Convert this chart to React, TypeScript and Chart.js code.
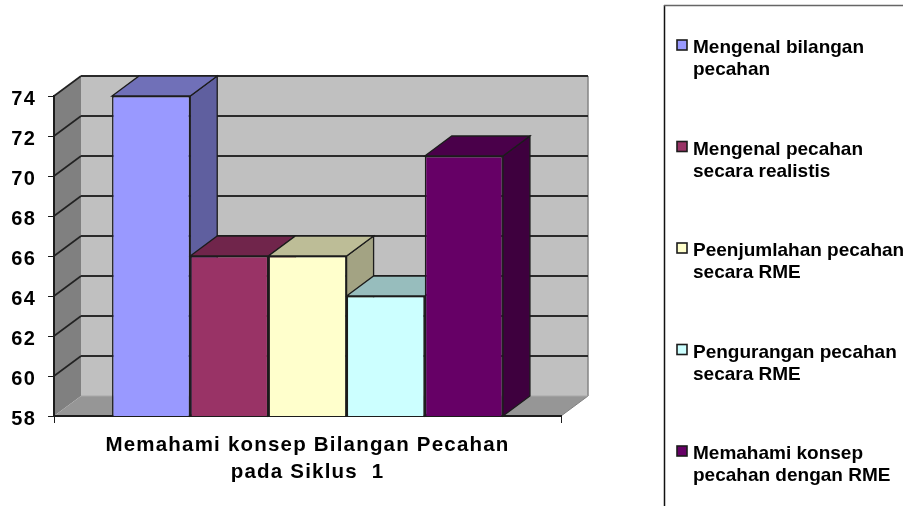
import React, { useEffect, useRef } from "react";
import { Chart, registerables } from "chart.js";

Chart.register(...registerables);

const categories: (string | string[])[] = [["Memahami konsep Bilangan Pecahan", "pada Siklus  1"]];
const legendLines: string[][] = [
  ["Mengenal bilangan", "pecahan"],
  ["Mengenal pecahan", "secara realistis"],
  ["Peenjumlahan pecahan", "secara RME"],
  ["Pengurangan pecahan", "secara RME"],
  ["Memahami konsep", "pecahan dengan RME"],
];
const mengenalBilangan = [74];
const mengenalRealistis = [66];
const penjumlahan = [66];
const pengurangan = [64];
const memahami = [71];
const seriesValues = [mengenalBilangan, mengenalRealistis, penjumlahan, pengurangan, memahami];
const frontColors = ["#9999FF", "#993366", "#FFFFCC", "#CCFFFF", "#660066"];
const topColors = ["#7070B8", "#70254B", "#BDBD97", "#97BDBD", "#4A004A"];
const sideColors = ["#5F5F9F", "#5E1F3F", "#A3A383", "#83A3A3", "#3E003E"];

const DX = 27;
const DY = 20;
const INK = "#1c1c1c";
const FONT = '"Liberation Sans", Arial, sans-serif';

function poly(ctx: CanvasRenderingContext2D, pts: number[][], fill: string, stroke?: string, lw = 1.5) {
  ctx.beginPath();
  pts.forEach((p, i) => (i ? ctx.lineTo(p[0], p[1]) : ctx.moveTo(p[0], p[1])));
  ctx.closePath();
  ctx.fillStyle = fill;
  ctx.fill();
  if (stroke) {
    ctx.strokeStyle = stroke;
    ctx.lineWidth = lw;
    ctx.stroke();
  }
}

function line(ctx: CanvasRenderingContext2D, x1: number, y1: number, x2: number, y2: number, color: string, lw: number) {
  ctx.beginPath();
  ctx.moveTo(x1, y1);
  ctx.lineTo(x2, y2);
  ctx.strokeStyle = color;
  ctx.lineWidth = lw;
  ctx.stroke();
}

const walls3d = {
  id: "walls3d",
  beforeDraw(chart: any) {
    const { ctx, chartArea: a, scales } = chart;
    const y = scales.y;
    ctx.save();
    ctx.letterSpacing = "0px";
    poly(ctx, [[a.left + DX, a.top - DY], [a.right + DX, a.top - DY], [a.right + DX, a.bottom - DY], [a.left + DX, a.bottom - DY]], "#C0C0C0");
    poly(ctx, [[a.left, a.top], [a.left + DX, a.top - DY], [a.left + DX, a.bottom - DY], [a.left, a.bottom]], "#808080");
    poly(ctx, [[a.left, a.bottom], [a.left + DX, a.bottom - DY], [a.right + DX, a.bottom - DY], [a.right, a.bottom]], "#969696");
    line(ctx, a.right + DX, a.top - DY, a.right + DX, a.bottom - DY, "#858585", 1.5);
    line(ctx, a.right, a.bottom, a.right + DX, a.bottom - DY, "#808080", 1);
    line(ctx, a.left + DX, a.bottom - DY, a.right + DX, a.bottom - DY, "#a8a8a8", 1);
    y.ticks.forEach((t: any) => {
      if (t.value === y.min) return;
      const py = y.getPixelForValue(t.value);
      line(ctx, a.left, py, a.left + DX, py - DY, "#222", 1.6);
      line(ctx, a.left + DX, py - DY, a.right + DX, py - DY, "#2a2a2a", 2.2);
    });
    ctx.restore();
    ctx.letterSpacing = "1.2px";
  },
  beforeDatasetsDraw(chart: any) {
    const { ctx, chartArea: a } = chart;
    ctx.save();
    chart.data.datasets.forEach((_: any, i: number) => {
      const bar = chart.getDatasetMeta(i).data[0];
      const { x, y, width } = bar.getProps(["x", "y", "width"], true);
      const base = a.bottom;
      const r = x + width / 2;
      const l = x - width / 2;
      poly(ctx, [[r, y], [r + DX, y - DY], [r + DX, base - DY], [r, base]], sideColors[i], INK, 1.3);
      poly(ctx, [[l, y], [l + DX, y - DY], [r + DX, y - DY], [r, y]], topColors[i], INK, 1.3);
    });
    ctx.restore();
  },
  afterDraw(chart: any) {
    const { ctx } = chart;
    ctx.save();
    ctx.letterSpacing = "0px";
    line(ctx, 664.5, 5, 664.5, 506, "#111", 1.5);
    line(ctx, 664, 5.5, 903, 5.5, "#666", 1.5);
    ctx.font = `bold 19px ${FONT}`;
    ctx.textAlign = "left";
    ctx.textBaseline = "alphabetic";
    legendLines.forEach((lines, i) => {
      const base = 53 + i * 101.5;
      ctx.fillStyle = frontColors[i];
      ctx.strokeStyle = INK;
      ctx.lineWidth = 1.6;
      ctx.fillRect(677, base - 13, 10, 10);
      ctx.strokeRect(677, base - 13, 10, 10);
      ctx.fillStyle = "#000";
      lines.forEach((txt, j) => ctx.fillText(txt, 693, base + j * 22));
    });
    ctx.restore();
  },
};

export default function App() {
  const ref = useRef<HTMLCanvasElement>(null);
  useEffect(() => {
    const chart = new Chart(ref.current!, {
      type: "bar",
      data: {
        labels: categories,
        datasets: seriesValues.map((data, i) => ({
          label: legendLines[i].join(" "),
          data,
          backgroundColor: frontColors[i],
          borderColor: INK,
          borderWidth: 1.5,
          categoryPercentage: 0.771,
          barPercentage: 1,
        })),
      },
      options: {
        responsive: false,
        animation: false,
        layout: { autoPadding: false, padding: { left: 0, top: 96, right: 342, bottom: 0 } },
        plugins: { legend: { display: false }, tooltip: { enabled: false } },
        scales: {
          x: {
            afterFit: (s: any) => { s.height = 90; },
            border: { display: true, color: INK, width: 2 },
            grid: { offset: true, drawOnChartArea: false, drawTicks: true, tickLength: 7, color: INK },
            ticks: {
              color: "#000",
              maxRotation: 0,
              autoSkip: false,
              padding: 9,
              font: { family: FONT, size: 20.5, weight: "bold", lineHeight: 1.3 },
            },
          },
          y: {
            min: 58,
            max: 74,
            afterFit: (s: any) => { s.width = 54; },
            border: { display: true, color: INK, width: 2 },
            grid: { drawOnChartArea: false, drawTicks: true, tickLength: 6, color: INK },
            ticks: {
              stepSize: 2,
              color: "#000",
              padding: 12,
              labelOffset: 3,
              font: { family: FONT, size: 20, weight: "bold" },
            },
          },
        },
      },
      plugins: [walls3d],
    } as any);
    return () => chart.destroy();
  }, []);
  return (
    <canvas
      ref={ref}
      width={903}
      height={506}
      style={{ position: "fixed", left: 0, top: 0, width: 903, height: 506, filter: "blur(0.5px)" }}
    />
  );
}
